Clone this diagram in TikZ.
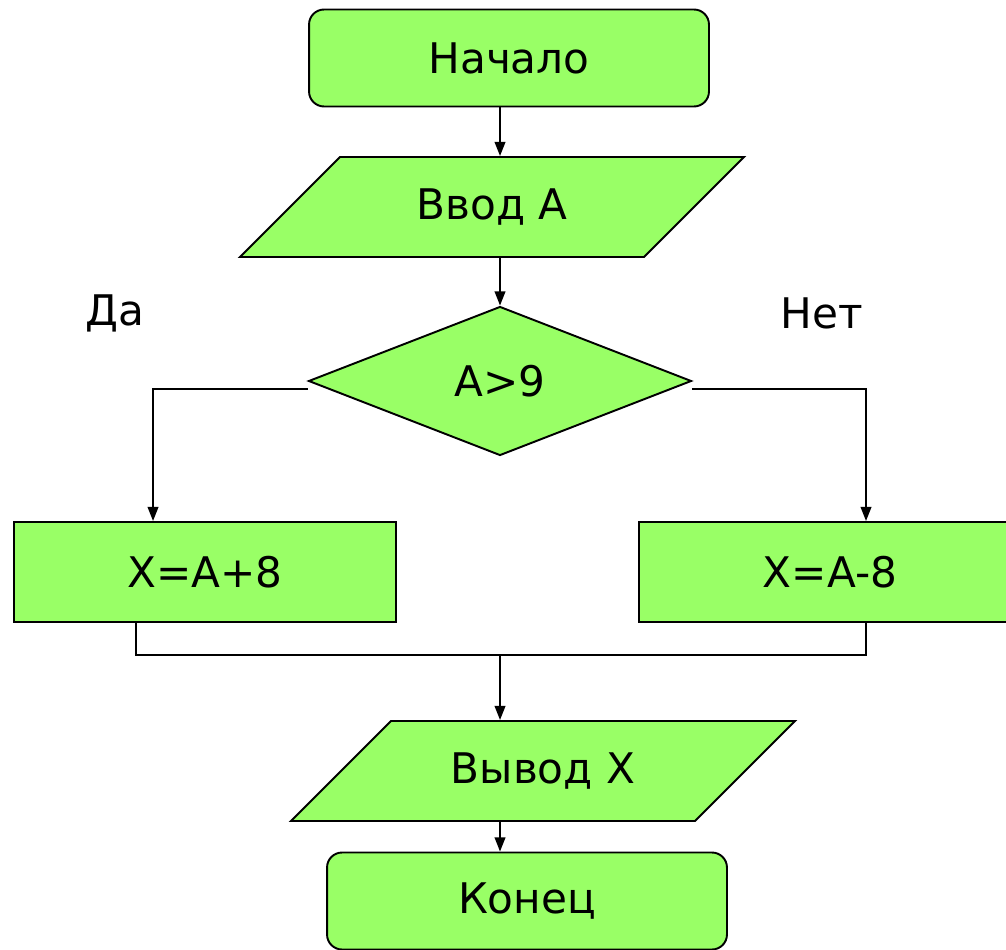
\documentclass[tikz,border=0pt]{standalone}
\usepackage{fontspec}
\setmainfont{DejaVu Sans}
\usetikzlibrary{arrows.meta}
\usetikzlibrary{shapes.geometric}
\tikzset{blk/.style = {draw, fill = fgreen, line width = 1.1pt, inner sep = 0, font = \fontsize{24}{28}\selectfont}}
\tikzset{term/.style = {blk, rectangle, rounded corners = 0.3cm, minimum width = 8cm, minimum height = 1.94cm}}
\tikzset{io/.style = {blk, trapezium, trapezium left angle = 45, trapezium right angle = 135, trapezium stretches body, text height = 0.6cm, text depth = 0.1cm, inner ysep = 0.65cm, minimum width = 10.08cm}}
\tikzset{proc/.style = {blk, rectangle, minimum width = 7.64cm, minimum height = 2cm}}
\tikzset{cond/.style = {blk, diamond, minimum width = 7.66cm, minimum height = 2.98cm}}
\tikzset{lbl/.style = {font = \fontsize{24}{28}\selectfont}}
\tikzset{arr/.style = {-{Stealth[length = 8pt, width = 6pt, inset = 0pt]}}}
\definecolor{fgreen}{RGB}{153, 255, 102}

\begin{document}
\begin{tikzpicture}[line width = 1.1pt]
        \begin{scope}[x = 0.02cm, y = -0.02cm]
        \useasboundingbox (0, 0) rectangle (1006, 949);
        \node [term] (start) at (509, 58) {Начало};
        \node [io] (in) at (492, 207) {Ввод A};
        \node [cond] (test) at (500, 381) {A>9};
        \node [proc] (yes) at (205, 572) {X=A+8};
        \node [proc] (no) at (830, 572) {X=A-8};
        \node [io] (out) at (543, 771) {Вывод X};
        \node [term] (stop) at (527, 901) {Конец};
        \node [lbl] (da) at (115, 313) {Да};
        \node [lbl] (net) at (822, 313) {Нет};
        \coordinate (ax) at (500, 0);
        \coordinate (join) at (500, 655);
        \end{scope}
        \draw [arr] (start.south -| ax) -- (in.north -| ax);
        \draw [arr] (in.south -| ax) -- (test.north);
        \draw [arr] ([yshift = -0.16cm] test.west) -| ([xshift = -1.04cm] yes.north);
        \draw [arr] ([yshift = -0.16cm] test.east) -| ([xshift = 0.72cm] no.north);
        \draw ([xshift = -1.38cm] yes.south) |- (join) -| ([xshift = 0.72cm] no.south);
        \draw [arr] (join) -- (out.north -| ax);
        \draw [arr] (out.south -| ax) -- (stop.north -| ax);
      \end{tikzpicture}
\end{document}
